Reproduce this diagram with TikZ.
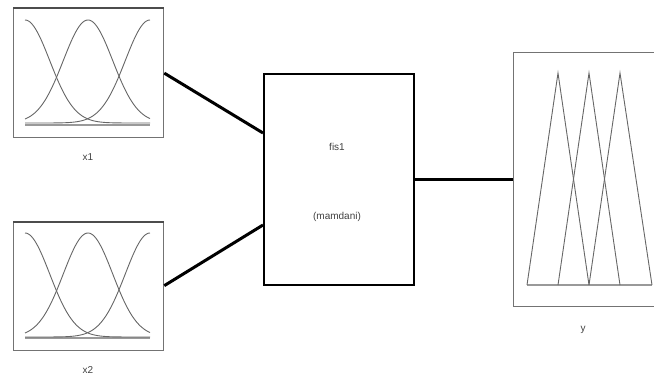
\documentclass[tikz,border=0pt]{standalone}
\usepackage{fontspec}
\setmainfont{Liberation Sans}
\begin{document}
\begin{tikzpicture}[x=1pt,y=-1pt,
  mfbox/.style={draw=black!55,line width=1.3pt,rectangle,inner sep=0pt,anchor=north west},
  fisbox/.style={draw=black,line width=2.4pt,rectangle,inner sep=0pt,anchor=north west},
  conn/.style={line width=3pt,black},
  mf/.style={draw=black!60,line width=0.9pt},
  base/.style={draw=black!40,line width=1.6pt},
  lbl/.style={font=\fontsize{10}{12}\selectfont,text=black!75}]
\useasboundingbox (0,0) rectangle (654,377);
% input x1
\node[mfbox,minimum width=150pt,minimum height=129pt] (x1) at (13,8) {};
\draw[black!70,line width=2pt] (x1.north west) -- (x1.north east);
\draw[base] (25,125) -- (150,125);
\draw[mf] plot[domain=25:150,samples=80] (\x,{123-103*exp(-((\x-25)^2)/1220)});
\draw[mf] plot[domain=25:150,samples=80] (\x,{123-103*exp(-((\x-88)^2)/1220)});
\draw[mf] plot[domain=25:150,samples=80] (\x,{123-103*exp(-((\x-150)^2)/1220)});
\node[lbl] (l1) at (88,157) {x1};
% input x2
\node[mfbox,minimum width=150pt,minimum height=128pt] (x2) at (13,222) {};
\draw[black!70,line width=2pt] (x2.north west) -- (x2.north east);
\draw[base] (25,338) -- (150,338);
\draw[mf] plot[domain=25:150,samples=80] (\x,{337-104*exp(-((\x-25)^2)/1220)});
\draw[mf] plot[domain=25:150,samples=80] (\x,{337-104*exp(-((\x-88)^2)/1220)});
\draw[mf] plot[domain=25:150,samples=80] (\x,{337-104*exp(-((\x-150)^2)/1220)});
\node[lbl] (l2) at (88,370) {x2};
% fis
\node[fisbox,minimum width=150pt,minimum height=211pt] (fis) at (263,73) {};
\node[lbl] (t1) at (337,147) {fis1};
\node[lbl] (t2) at (337,217) {(mamdani)};
% output y
\node[mfbox,minimum width=150pt,minimum height=254pt] (y) at (513,52) {};
\draw[base,line width=1.2pt] (527,285) -- (652,285);
\draw[mf] (527,285) -- (558,73) -- (589,285);
\draw[mf] (558,285) -- (589,73) -- (620,285);
\draw[mf] (589,285) -- (620,73) -- (652,285);
\node[lbl] (l3) at (583,330) {y};
% connectors
\coordinate (f1) at (263,133);
\coordinate (f2) at (263,225);
\draw[conn] (x1.east) -- (f1);
\draw[conn] (x2.east) ++(0,-1) -- (f2);
\draw[conn] (fis.east) -- (y.west |- fis.east);
\end{tikzpicture}
\end{document}
